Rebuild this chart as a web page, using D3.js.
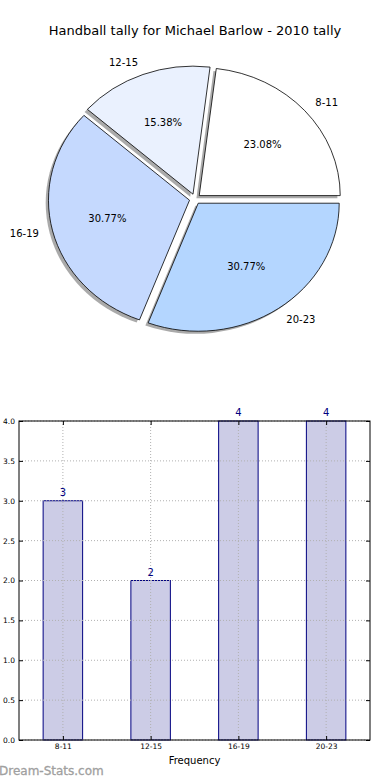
<!DOCTYPE html>
<head>
    <meta charset="utf-8">
    <style>
        body {
            margin: 0;
            padding: 0;
            background: #fff;
        }
        svg {
            display: block;
            font-family: "DejaVu Sans", sans-serif;
        }
        .grid line {
            stroke: #b0b0b0;
            stroke-dasharray: 1,2;
        }
    </style>
    <script src="https://d3js.org/d3.v7.min.js"></script>
</head>
<body>
    <svg width="390" height="780"></svg>
    <script>
        // data
        var categories = ["8-11", "12-15", "16-19", "20-23"];
        var counts = [3, 2, 4, 4];
        var pieColors = ["#ffffff", "#eaf1fe", "#c5d9fe", "#b4d6ff"];
        var yTicks = [0, 0.5, 1, 1.5, 2, 2.5, 3, 3.5, 4];
        var title = "Handball tally for Michael Barlow - 2010 tally";

        var svg = d3.select("svg");

        svg.append("text")
            .attr("x", 195)
            .attr("y", 35)
            .attr("text-anchor", "middle")
            .attr("font-size", 13)
            .attr("fill", "#000")
            .text(title);

        // pie (matplotlib style: ccw from 3 o'clock, elliptical, exploded)
        var cx = 195, cy = 199, rx = 141, ry = 128, explode = 0.04;
        var total = d3.sum(counts);
        var pie = d3.pie().sort(null)
            .startAngle(Math.PI / 2)
            .endAngle(Math.PI / 2 - 2 * Math.PI);
        var arcs = pie(counts);
        var arc = d3.arc().innerRadius(0).outerRadius(1);

        function mid(d) { return (d.startAngle + d.endAngle) / 2; }
        function offs(d) {
            var a = mid(d);
            return [cx + explode * rx * Math.sin(a), cy - explode * ry * Math.cos(a)];
        }

        var gPie = svg.append("g");

        // shadows first
        gPie.selectAll("path.shadow")
            .data(arcs)
            .enter().append("path")
            .attr("class", "shadow")
            .attr("d", arc)
            .attr("fill", "#555")
            .attr("fill-opacity", 0.5)
            .attr("transform", function (d) {
                var o = offs(d);
                return "translate(" + (o[0] - 2.8) + "," + (o[1] + 2.6) + ") scale(" + rx + "," + ry + ")";
            });

        gPie.selectAll("path.wedge")
            .data(arcs)
            .enter().append("path")
            .attr("class", "wedge")
            .attr("d", arc)
            .attr("fill", function (d, i) { return pieColors[i]; })
            .attr("stroke", "#000")
            .attr("stroke-width", 0.8)
            .attr("vector-effect", "non-scaling-stroke")
            .attr("transform", function (d) {
                var o = offs(d);
                return "translate(" + o[0] + "," + o[1] + ") scale(" + rx + "," + ry + ")";
            });

        // category labels
        gPie.selectAll("text.lab")
            .data(arcs)
            .enter().append("text")
            .attr("class", "lab")
            .attr("x", function (d) { return cx + (1.1 + explode) * rx * Math.sin(mid(d)); })
            .attr("y", function (d) { return cy - (1.1 + explode) * ry * Math.cos(mid(d)); })
            .attr("dy", "0.35em")
            .attr("text-anchor", function (d) { return Math.sin(mid(d)) > 0 ? "start" : "end"; })
            .attr("font-size", 10)
            .text(function (d, i) { return categories[i]; });

        // percent labels
        gPie.selectAll("text.pct")
            .data(arcs)
            .enter().append("text")
            .attr("class", "pct")
            .attr("x", function (d) { return cx + (0.6 + explode) * rx * Math.sin(mid(d)); })
            .attr("y", function (d) { return cy - (0.6 + explode) * ry * Math.cos(mid(d)); })
            .attr("dy", "0.35em")
            .attr("text-anchor", "middle")
            .attr("font-size", 10)
            .text(function (d) { return (d.value / total * 100).toFixed(2) + "%"; });

        // bar chart
        var plotL = 19, plotR = 370, plotT = 421, plotB = 740;
        var x = d3.scaleLinear().domain([-0.5, categories.length - 0.5]).range([plotL, plotR]);
        var y = d3.scaleLinear().domain([0, 4]).range([plotB, plotT]);
        var barW = x(0.45) - x(0);

        var gBar = svg.append("g");

        gBar.selectAll("rect.bar")
            .data(counts)
            .enter().append("rect")
            .attr("class", "bar")
            .attr("x", function (d, i) { return x(i) - barW / 2; })
            .attr("y", function (d) { return y(d); })
            .attr("width", barW)
            .attr("height", function (d) { return plotB - y(d); })
            .attr("fill", "#cccce6")
            .attr("stroke", "#000080")
            .attr("stroke-width", 1);

        // grid, drawn over the bars
        var grid = gBar.append("g").attr("class", "grid");
        grid.selectAll("line.h")
            .data(yTicks)
            .enter().append("line")
            .attr("x1", plotL).attr("x2", plotR)
            .attr("y1", function (d) { return y(d); })
            .attr("y2", function (d) { return y(d); });
        grid.selectAll("line.v")
            .data(categories)
            .enter().append("line")
            .attr("x1", function (d, i) { return x(i); })
            .attr("x2", function (d, i) { return x(i); })
            .attr("y1", plotT).attr("y2", plotB);

        // value labels
        gBar.selectAll("text.val")
            .data(counts)
            .enter().append("text")
            .attr("class", "val")
            .attr("x", function (d, i) { return x(i); })
            .attr("y", function (d) { return y(d) - 5; })
            .attr("text-anchor", "middle")
            .attr("font-size", 10)
            .attr("fill", "#000080")
            .text(function (d) { return d; });

        // axes
        var yAxis = d3.axisLeft(y).tickValues(yTicks).tickSize(-4).tickPadding(4)
            .tickFormat(d3.format(".1f"));
        gBar.append("g")
            .attr("transform", "translate(" + plotL + ",0)")
            .call(yAxis)
            .call(function (g) { g.select(".domain").remove(); })
            .call(function (g) { g.selectAll("text").attr("font-size", 7.5).attr("font-family", "DejaVu Sans"); });

        gBar.append("g")
            .attr("transform", "translate(" + plotR + ",0)")
            .call(d3.axisRight(y).tickValues(yTicks).tickSize(-4).tickFormat(""))
            .call(function (g) { g.select(".domain").remove(); });

        var xAxis = d3.axisBottom(x).tickValues(d3.range(categories.length)).tickSize(-4).tickPadding(4)
            .tickFormat(function (d) { return categories[d]; });
        gBar.append("g")
            .attr("transform", "translate(0," + plotB + ")")
            .call(xAxis)
            .call(function (g) { g.select(".domain").remove(); })
            .call(function (g) { g.selectAll("text").attr("font-size", 7.5).attr("font-family", "DejaVu Sans"); });

        gBar.append("g")
            .attr("transform", "translate(0," + plotT + ")")
            .call(d3.axisTop(x).tickValues(d3.range(categories.length)).tickSize(-4).tickFormat(""))
            .call(function (g) { g.select(".domain").remove(); });

        gBar.append("rect")
            .attr("x", plotL).attr("y", plotT)
            .attr("width", plotR - plotL).attr("height", plotB - plotT)
            .attr("fill", "none")
            .attr("stroke", "#000")
            .attr("stroke-width", 1);

        svg.append("text")
            .attr("x", (plotL + plotR) / 2)
            .attr("y", 764)
            .attr("text-anchor", "middle")
            .attr("font-size", 10)
            .text("Frequency");

        svg.append("text")
            .attr("x", -1)
            .attr("y", 775)
            .attr("font-size", 12)
            .attr("fill", "#a0a0a0")
            .attr("stroke", "#a0a0a0")
            .attr("stroke-width", 0.3)
            .text("Dream-Stats.com");
    </script>
</body>
</html>
